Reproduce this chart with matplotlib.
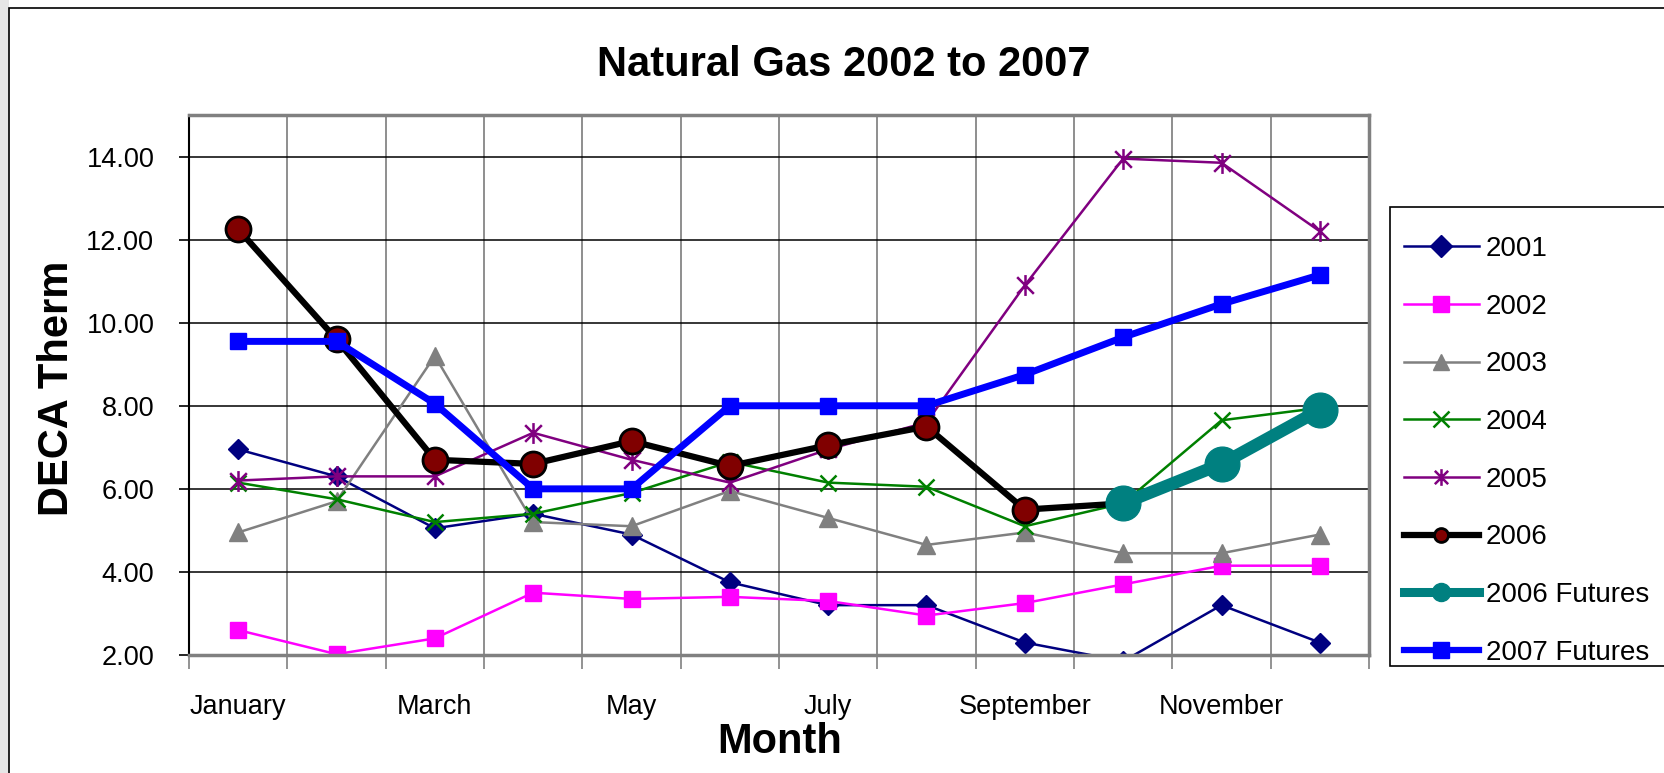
import numpy as np
import matplotlib
matplotlib.use('Agg')
import matplotlib.pyplot as plt
from matplotlib import font_manager
from matplotlib.path import Path
from matplotlib.patches import Rectangle

nan = np.nan
months = ['January', 'February', 'March', 'April', 'May', 'June', 'July',
          'August', 'September', 'October', 'November', 'December']
tick_labels = ['January', '', 'March', '', 'May', '', 'July', '',
               'September', '', 'November', '']
y_ticks = [2, 4, 6, 8, 10, 12, 14]

s2001 = [6.95, 6.30, 5.05, 5.40, 4.90, 3.75, 3.20, 3.20, 2.30, 1.85, 3.20, 2.30]
s2002 = [2.60, 2.02, 2.40, 3.50, 3.35, 3.40, 3.30, 2.95, 3.25, 3.70, 4.15, 4.15]
s2003 = [4.95, 5.70, 9.20, 5.20, 5.10, 5.95, 5.30, 4.65, 4.95, 4.45, 4.45, 4.90]
s2004 = [6.15, 5.75, 5.20, 5.40, 5.90, 6.65, 6.15, 6.05, 5.10, 5.65, 7.65, 7.95]
s2005 = [6.20, 6.30, 6.30, 7.35, 6.70, 6.15, 6.95, 7.60, 10.90, 13.95, 13.85, 12.20]
s2006 = [12.25, 9.60, 6.70, 6.60, 7.15, 6.55, 7.05, 7.50, 5.50, 5.65, nan, nan]
f2006 = [nan, nan, nan, nan, nan, nan, nan, nan, nan, 5.65, 6.60, 7.90]
f2007 = [9.55, 9.55, 8.05, 6.00, 6.00, 8.00, 8.00, 8.00, 8.75, 9.65, 10.45, 11.15]

installed = {f.name for f in font_manager.fontManager.ttflist}
narrow = 'Liberation Sans Narrow' if 'Liberation Sans Narrow' in installed else 'Liberation Sans'
arial = 'Liberation Sans' if 'Liberation Sans' in installed else 'DejaVu Sans'

W, H = 1664, 773
fig = plt.figure(figsize=(W / 100, H / 100), dpi=100)

# page background strip + chart frame
fig.patches.append(Rectangle((0, 0), 9 / W, 1, transform=fig.transFigure,
                             facecolor='#e6e6e6', edgecolor='none', zorder=-5))
fig.patches.append(Rectangle((9 / W, -0.1), 1.2, 1.1 - 8 / H, transform=fig.transFigure,
                             facecolor='white', edgecolor='black', lw=1.2, zorder=-5))
# legend frame
fig.patches.append(Rectangle((1390 / W, 1 - 666 / H), 0.3, (666 - 207) / H,
                             transform=fig.transFigure, facecolor='white',
                             edgecolor='black', lw=1.2, zorder=-4))

ax = fig.add_axes([189 / W, 1 - 655 / H, (1369 - 189) / W, (655 - 115) / H])
ax.set_facecolor('none')
x = np.arange(len(months))

ast = Path([(0, -1), (0, 1), (-0.8, -0.8), (0.8, 0.8), (-0.8, 0.8), (0.8, -0.8)],
           [Path.MOVETO, Path.LINETO] * 3)

ax.plot(x, s2001, color='#000080', lw=1.8, marker='D', ms=10, mfc='#000080',
        mec='#000080', label='2001')
ax.plot(x, s2002, color='#FF00FF', lw=1.8, marker='s', ms=11, mfc='#FF00FF',
        mec='#FF00FF', label='2002')
ax.plot(x, s2003, color='#808080', lw=1.8, marker='^', ms=13, mfc='#808080',
        mec='#808080', label='2003')
ax.plot(x, s2004, color='#008000', lw=1.8, marker='x', ms=12, mew=1.8,
        mec='#008000', label='2004')
ax.plot(x, s2005, color='#800080', lw=1.8, marker=ast, ms=15, mew=1.8,
        mfc='none', mec='#800080', label='2005')
ax.plot(x, s2006, color='black', lw=4.5, marker='o', ms=18, mfc='#800000',
        mec='black', mew=2, label='2006')
ax.plot(x, f2006, color='#008080', lw=9, marker='o', ms=25, mfc='#008080',
        mec='#008080', label='2006 Futures')
ax.plot(x, f2007, color='#0000FF', lw=5, marker='s', ms=12, mfc='#0000FF',
        mec='#0000FF', label='2007 Futures')

ax.set_xlim(-0.5, len(months) - 0.5)
ax.set_ylim(2, 15)
ax.set_yticks(y_ticks)
ax.set_yticklabels(['%.2f' % v for v in y_ticks], fontfamily=narrow, fontsize=19.5)
ax.set_xticks(x)
ax.set_xticklabels(tick_labels, fontfamily=narrow, fontsize=19.5)
ax.set_xticks(np.arange(-0.5, len(months), 1), minor=True)

ax.tick_params(axis='x', which='major', length=0, pad=28)
ax.tick_params(axis='x', which='minor', length=10, width=1.2, color='#808080', direction='out')
ax.tick_params(axis='y', which='major', length=7, width=1.2, color='black', pad=18)

ax.grid(which='minor', axis='x', color='#707070', lw=1.1)
ax.grid(which='major', axis='y', color='black', lw=1.1)
ax.set_axisbelow(True)

for side in ['top', 'right', 'bottom']:
    ax.spines[side].set_color('#808080')
    ax.spines[side].set_linewidth(2.5)
ax.spines['left'].set_color('black')
ax.spines['left'].set_linewidth(1.5)

fig.text(844 / W, 1 - 65 / H, 'Natural Gas 2002 to 2007', ha='center', va='center',
         fontfamily=narrow, fontweight='bold', fontsize=30)
fig.text(57 / W, 1 - 388 / H, 'DECA Therm', rotation=90, ha='center', va='center',
         fontfamily=arial, fontweight='bold', fontsize=30)
fig.text(780 / W, 1 - 742 / H, 'Month', ha='center', va='center',
         fontfamily=arial, fontweight='bold', fontsize=30)

leg = fig.legend(loc='upper left', bbox_to_anchor=(1390 / W, 1 - 222 / H),
                 prop={'family': arial, 'size': 20}, frameon=False,
                 handlelength=2.7, handletextpad=0.25,
                 labelspacing=1.14, borderpad=0.5, borderaxespad=0)
leg_ms = [11, 11, 12, 11, 12, 10, 13, 12]
leg_lw = [1.8, 1.8, 1.8, 1.8, 1.8, 4.5, 6.5, 4.5]
for h, m, w in zip(leg.legend_handles, leg_ms, leg_lw):
    h.set_markersize(m)
    h.set_linewidth(w)

fig.savefig('out.png', dpi=100)
